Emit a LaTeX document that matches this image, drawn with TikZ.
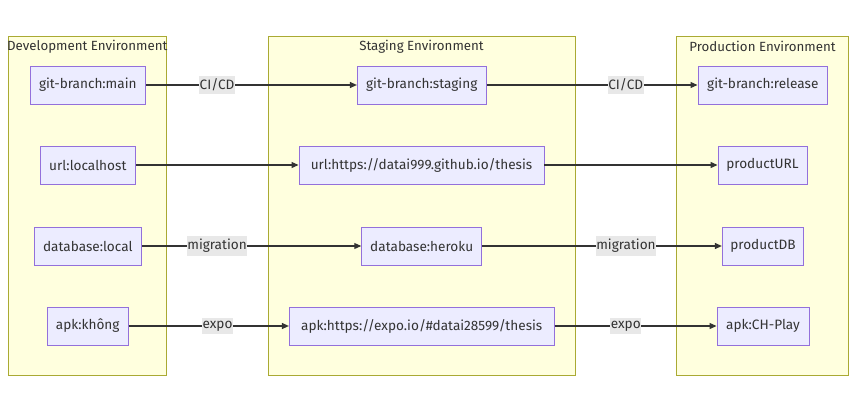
\documentclass[tikz,border=0pt]{standalone}
\usepackage{fontspec}
\setmainfont{Fira Sans}
\usetikzlibrary{arrows.meta}
\definecolor{nodefill}{HTML}{ECECFF}
\definecolor{nodestroke}{HTML}{9370DB}
\definecolor{clusterfill}{HTML}{FFFFDE}
\definecolor{clusterstroke}{HTML}{AAAA33}
\definecolor{edgecol}{HTML}{333333}
\definecolor{labelbg}{HTML}{E8E8E8}
\definecolor{textcol}{HTML}{333333}
\tikzset{
  cluster/.style={draw=clusterstroke, fill=clusterfill, line width=0.9pt},
  ctitle/.style={text=textcol, font=\fontsize{13.3}{15}\selectfont, inner sep=0pt, anchor=center},
  box/.style={draw=nodestroke, fill=nodefill, line width=0.9pt, text=textcol,
    font=\fontsize{13.6}{15}\selectfont, inner sep=0pt, minimum height=38pt},
  conn/.style={draw=edgecol, line width=1.1pt, -{Triangle[length=7pt,width=6pt]}},
  elabel/.style={fill=labelbg, text=textcol, font=\fontsize{13.6}{15}\selectfont,
    inner xsep=0.5pt, inner ysep=3pt}
}
\begin{document}
\begin{tikzpicture}[x=1pt,y=-1pt]
\useasboundingbox[fill=white] (0,0) rectangle (856,412);
% clusters
\path[cluster] (8,36) rectangle (166.5,375);
\path[cluster] (268,36) rectangle (575,375);
\path[cluster] (676.5,36) rectangle (848.5,375);
\node[ctitle] (tdev) at (87.3,46.5) {Development Environment};
\node[ctitle] (tstg) at (421.5,46.5) {Staging Environment};
\node[ctitle] (tprd) at (762.5,46.5) {Production Environment};
% nodes
\node[box, minimum width=115.5pt] (gmain) at (87.8,85) {git-branch:main};
\node[box, minimum width=128.7pt] (gstg) at (421.7,85) {git-branch:staging};
\node[box, minimum width=129.7pt] (grel) at (762.8,85) {git-branch:release};
\node[box, minimum width=95pt] (ulocal) at (87.8,165) {url:localhost};
\node[box, minimum width=245pt] (ustg) at (421.5,165) {url:https://datai999.github.io/thesis};
\node[box, minimum width=89pt] (uprd) at (762.5,165) {productURL};
\node[box, minimum width=107.7pt] (dlocal) at (87.8,246) {database:local};
\node[box, minimum width=120pt] (dstg) at (421.7,246) {database:heroku};
\node[box, minimum width=81.4pt] (dprd) at (763,246) {productDB};
\node[box, minimum width=80.7pt] (alocal) at (87.7,326) {apk:không};
\node[box, minimum width=264.7pt] (astg) at (421.7,326) {apk:https://expo.io/\#datai28599/thesis};
\node[box, minimum width=92pt] (aprd) at (763,326) {apk:CH-Play};
% edges
\draw[conn] (gmain) -- node[elabel, pos=0.337] {CI/CD} (gstg);
\draw[conn] (gstg) -- node[elabel, pos=0.66] {CI/CD} (grel);
\draw[conn] (ulocal) -- (ustg);
\draw[conn] (ustg) -- (uprd);
\draw[conn] (dlocal) -- node[elabel, pos=0.342] {migration} (dstg);
\draw[conn] (dstg) -- node[elabel, pos=0.6] {migration} (dprd);
\draw[conn] (alocal) -- node[elabel, pos=0.555] {expo} (astg);
\draw[conn] (astg) -- node[elabel, pos=0.44] {expo} (aprd);
\end{tikzpicture}
\end{document}
